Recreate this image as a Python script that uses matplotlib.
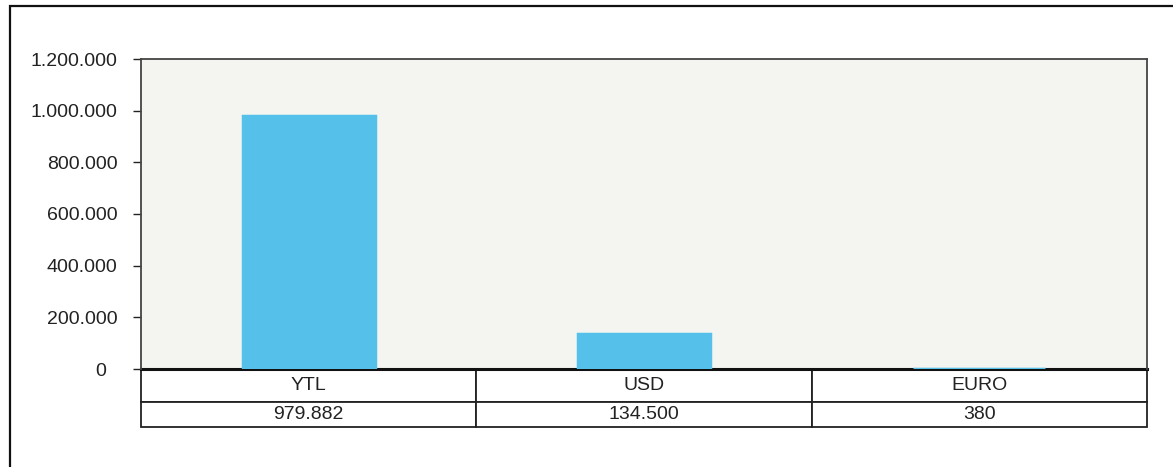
import matplotlib.pyplot as plt
import matplotlib.patches as patches
from matplotlib.ticker import FuncFormatter, MultipleLocator

categories = ['YTL', 'USD', 'EURO']
amounts = [979882, 134500, 380]
amount_labels = ['979.882', '134.500', '380']

plt.rcParams['font.family'] = ['Liberation Sans', 'DejaVu Sans']

W, H = 1173, 467
fig = plt.figure(figsize=(W / 100, H / 100), dpi=100)

# outer frame (top and left edges visible, rest runs off the picture)
fig.patches.append(patches.Rectangle((10 / W, -0.2), 1.2, 1.2 - 6 / H,
                                     transform=fig.transFigure, fill=False,
                                     lw=1.6, ec='#111111'))

# plot area in pixels: left 141, right 1147, top 59, bottom 369
ax = fig.add_axes([141 / W, 1 - 369 / H, (1147 - 141) / W, (369 - 59) / H])
ax.set_facecolor('#f4f4f1')

x = range(len(categories))
# thick edge so the tiny EURO bar still shows above the zero line
ax.bar(x, amounts, width=0.394, color='#55c1ea', edgecolor='#55c1ea', lw=2.5, zorder=3)
ax.set_xlim(-0.5, 2.5)
ax.set_ylim(0, 1200000)


def fmt(v, p):
    if v == 0:
        return '0  '
    return f'{int(v):,}'.replace(',', '.')


ax.yaxis.set_major_locator(MultipleLocator(200000))
ax.yaxis.set_major_formatter(FuncFormatter(fmt))
ax.tick_params(axis='y', length=6, width=1, labelsize=14, pad=11, color='#222222',
               labelcolor='#222222')
ax.set_xticks([])

for s in ['top', 'right', 'left']:
    ax.spines[s].set_color('#444444')
    ax.spines[s].set_linewidth(1.3)
ax.spines['bottom'].set_linewidth(2.2)
ax.spines['bottom'].set_color('#111111')
ax.spines['bottom'].set_zorder(2)

axh = 310
tbl = ax.table(cellText=[categories, amount_labels], cellLoc='center',
               bbox=[0, -58 / axh, 1, 58 / axh])
tbl.auto_set_font_size(False)
tbl.set_fontsize(14)
for (r, c), cell in tbl.get_celld().items():
    cell.set_linewidth(1.3)
    cell.set_edgecolor('#222222')
    cell.set_height(33 / axh if r == 0 else 25 / axh)
    cell.get_text().set_color('#222222')

fig.savefig('out.png', dpi=100)
